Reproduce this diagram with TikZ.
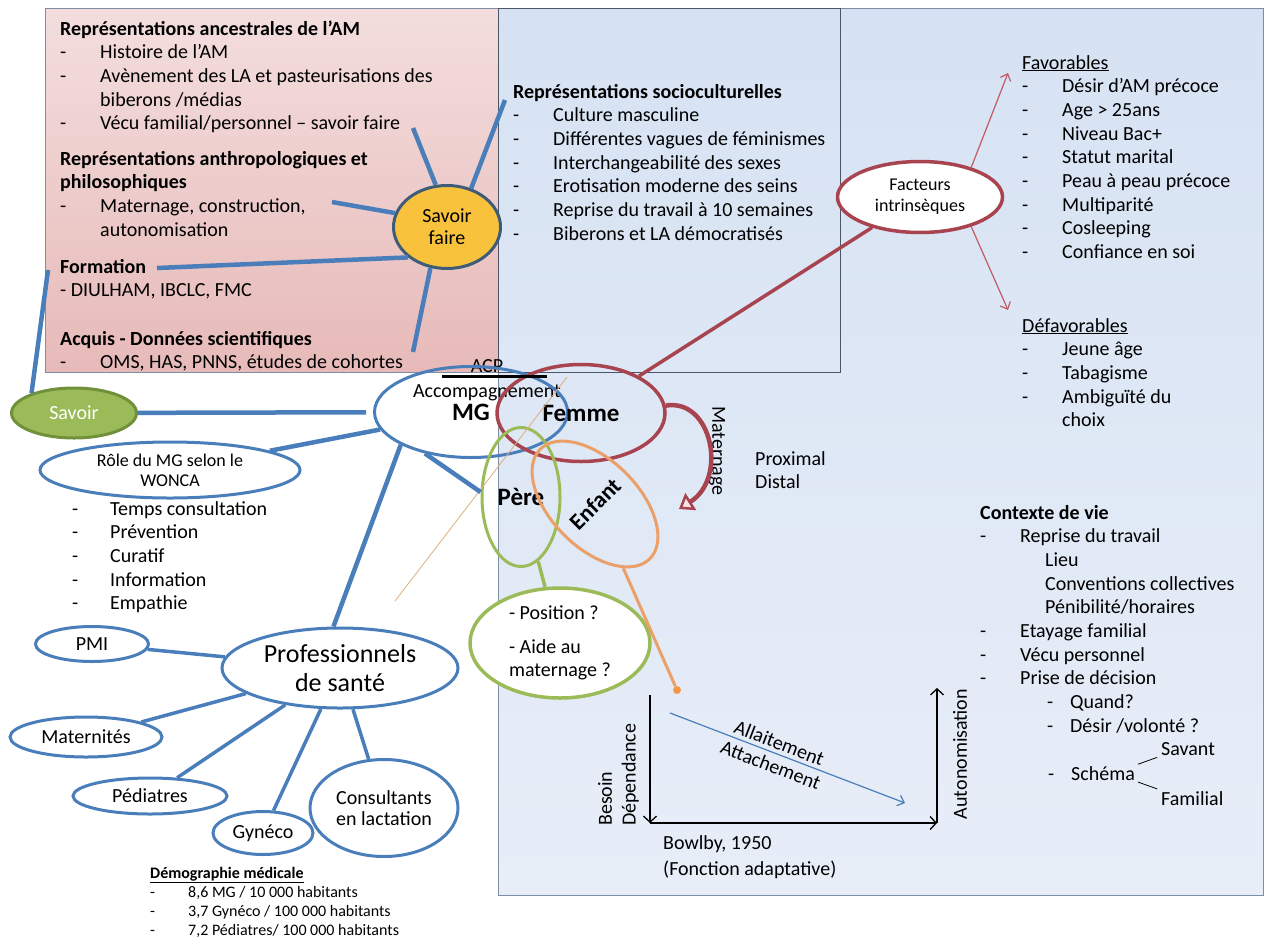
\documentclass[tikz,border=0pt]{standalone}
\usepackage{fontspec}
\setmainfont{Carlito}
\usetikzlibrary{shapes.geometric,arrows.meta}
\definecolor{mgblue}{HTML}{4A7EBB}
\definecolor{femred}{HTML}{A84450}
\definecolor{facarrowc}{HTML}{C25A66}
\definecolor{pergreen}{HTML}{9BBB59}
\definecolor{savborder}{HTML}{71903A}
\definecolor{enforange}{HTML}{EBA06A}
\definecolor{dotorange}{HTML}{F79646}
\definecolor{sfyellow}{HTML}{F9C23C}
\definecolor{sfborder}{HTML}{3E5C78}
\definecolor{tanc}{HTML}{DDAE7E}
\definecolor{matfill}{HTML}{FBE3E3}
\definecolor{pinktop}{HTML}{F3DEDD}
\definecolor{pinkbot}{HTML}{E7BAB9}
\definecolor{bgtop}{HTML}{D6E2F3}
\definecolor{bgmid}{HTML}{B9CFEE}
\definecolor{bgbot}{HTML}{E8EEF8}
\definecolor{boxgray}{HTML}{7D8FA6}
\definecolor{boxdark}{HTML}{4A5666}
\newcommand{\bodysize}{\fontsize{20}{23.7}\selectfont}
\newcommand{\smallsize}{\fontsize{18}{20}\selectfont}
\newcommand{\bigbold}{\fontsize{25}{28}\selectfont\bfseries}
\newcommand{\profsize}{\fontsize{26}{29}\selectfont}
\newcommand{\demosize}{\fontsize{16}{19}\selectfont}
\newcommand{\tiret}[1][40pt]{\makebox[#1][l]{-}}
\begin{document}
\begin{tikzpicture}[x=1pt,y=-1pt,font=\bodysize,
    oval/.style={draw=mgblue,line width=3pt,ellipse,inner sep=0pt,fill=white,align=center},
    bline/.style={draw=mgblue,line width=4.5pt},
    txt/.style={align=left,inner sep=0pt,anchor=base west},
    facarrow/.style={draw=facarrowc,line width=1.2pt,-{Straight Barb[length=6pt,width=11pt]}},
    axis/.style={line width=1.3pt,-{Straight Barb[length=6pt,width=13pt]}},
    matarrow/.style={draw=femred,line width=4.5pt,-{Triangle[fill=matfill,line width=2.5pt,length=14pt,width=20pt]}}]
    \useasboundingbox (0,0) rectangle (1268,940);

    \shadedraw[top color=bgtop,middle color=bgmid,bottom color=bgbot,draw=boxgray,line width=1pt] (498,8) rectangle (1263,895);
    \shadedraw[top color=pinktop,bottom color=pinkbot,draw=boxgray,line width=1pt] (45,8) rectangle (498,372);
    \draw[boxdark,line width=1pt] (498,8) rectangle (840,372);

    % multi-line texts sit on the baseline of their last line
    \node[txt] (ancest) at (60,129.8) {\textbf{Représentations ancestrales de l’AM}\\\tiret Histoire de l’AM\\\tiret Avènement des LA et pasteurisations des\\\hspace*{40pt}biberons /médias\\\tiret Vécu familial/personnel – savoir faire};
    \node[txt] (anthropo) at (60,236.1) {\textbf{Représentations anthropologiques et}\\\textbf{philosophiques}\\\tiret Maternage, construction,\\\hspace*{40pt}autonomisation};
    \node[txt] (formation) at (60,296.7) {\textbf{Formation}\\- DIULHAM, IBCLC, FMC};
    \node[txt] (acquis) at (60,368.7) {\textbf{Acquis - Données scientifiques}\\\tiret OMS, HAS, PNNS, études de cohortes};

    \node[txt] (socio) at (513,240.2) {\textbf{Représentations socioculturelles}\\\tiret Culture masculine\\\tiret Différentes vagues de féminismes\\\tiret Interchangeabilité des sexes\\\tiret Erotisation moderne des seins\\\tiret Reprise du travail à 10  semaines\\\tiret Biberons et LA démocratisés};

    \node[txt] (favor) at (1022,258.6) {\underline{Favorables}\\\tiret Désir d’AM précoce\\\tiret Age > 25ans\\\tiret Niveau Bac+\\\tiret Statut marital\\\tiret Peau à peau précoce\\\tiret Multiparité\\\tiret Cosleeping\\\tiret Confiance en soi};
    \node[txt] (defavor) at (1022,426.8) {\underline{Défavorables}\\\tiret Jeune âge\\\tiret Tabagisme\\\tiret Ambiguïté du\\\hspace*{40pt}choix};

    \node[txt] (contexte) at (980,732.3) {\textbf{Contexte de vie}\\\tiret Reprise du travail\\\hspace*{65pt}Lieu\\\hspace*{65pt}Conventions collectives\\\hspace*{65pt}Pénibilité/horaires\\\tiret Etayage familial\\\tiret Vécu personnel\\\tiret Prise de décision\\\hspace*{67pt}\tiret[23pt]Quand?\\\hspace*{67pt}\tiret[23pt]Désir /volonté ?};
    \node[txt,inner sep=1pt] (schema) at (1047,780) {\tiret[23pt]Schéma};
    \node[txt,inner sep=1pt] (savant) at (1160,755) {Savant};
    \node[txt,inner sep=1pt] (familial) at (1160,805) {Familial};

    \node[oval,draw=sfborder,fill=sfyellow,minimum width=107pt,minimum height=83pt,font=\fontsize{20}{22}\selectfont] (sf) at (447,227) {Savoir\\faire};
    \node[oval,draw=savborder,fill=pergreen,text=white,minimum width=125pt,minimum height=50pt] (savoir) at (74,413) {Savoir};

    \node (acp) at (487,366) {ACP};
    \node (accomp) at (487,393) {Accompagnement};
    \node[oval,fill=none,minimum width=193pt,minimum height=91pt,font=\bigbold] (mg) at (471,412) {MG};
    \node[oval,fill=none,draw=femred,line width=3.5pt,minimum width=168pt,minimum height=97pt,font=\bigbold] (femme) at (581,413) {Femme};
    \node[oval,fill=none,draw=pergreen,minimum width=78pt,minimum height=139pt,font=\bigbold] (pere) at (521,497) {Père};
    \node[oval,fill=none,draw=enforange,rotate=45,minimum width=85pt,minimum height=155pt,font=\fontsize{23}{26}\selectfont\bfseries] (enfant) at (595,504) {Enfant};
    \node[oval,draw=pergreen,line width=3.5pt,minimum width=180pt,minimum height=110pt,align=left] (position) at (560,643) {- Position ?\\[10pt]- Aide au\\maternage ?};
    \node[circle,fill=dotorange,inner sep=0pt,minimum size=8pt] (dot) at (677,690) {};

    \node[oval,draw=femred,line width=3.5pt,minimum width=165pt,minimum height=71pt,font=\fontsize{18}{21}\selectfont] (fact) at (920,197) {Facteurs\\intrinsèques};

    \node[oval,minimum width=260pt,minimum height=56pt,font=\smallsize] (role) at (170,470) {Rôle du MG  selon le\\WONCA};
    \node[txt] (wonca) at (72,609.8) {\tiret[38pt]Temps consultation\\\tiret[38pt]Prévention\\\tiret[38pt]Curatif\\\tiret[38pt]Information\\\tiret[38pt]Empathie};

    \node[oval,minimum width=236pt,minimum height=80pt,font=\profsize] (prof) at (340,668) {Professionnels\\de santé};
    \node[oval,minimum width=113pt,minimum height=35pt] (pmi) at (92,644) {PMI};
    \node[oval,minimum width=152pt,minimum height=40pt] (matern) at (86,737) {Maternités};
    \node[oval,minimum width=154pt,minimum height=36pt] (pediat) at (150,796) {Pédiatres};
    \node[oval,minimum width=100pt,minimum height=43pt] (gyneco) at (263,833) {Gynéco};
    \node[oval,minimum width=148pt,minimum height=97pt,font=\fontsize{20}{21}\selectfont] (consult) at (384,808) {Consultants\\en lactation};
    \node[txt,font=\demosize] (demo) at (150,935) {\textbf{\underline{Démographie médicale}}\\\tiret[38pt]8,6 MG / 10 000 habitants\\\tiret[38pt]3,7 Gynéco / 100 000 habitants\\\tiret[38pt]7,2 Pédiatres/ 100 000 habitants};

    \node[rotate=-90] (matlabel) at (717,451) {Maternage};
    \node[txt] (prox) at (755,488.7) {Proximal\\Distal};

    \node[rotate=90,anchor=north west,align=left,inner sep=0pt] (besoin) at (598,826) {Besoin\\Dépendance};
    \node[rotate=90] (autonom) at (960,754) {Autonomisation};
    \node[rotate=-21,align=center] (allait) at (775,754) {Allaitement\\Attachement};
    \node[txt,font=\fontsize{20}{26}\selectfont] (bowlby) at (663,875) {Bowlby, 1950\\(Fonction adaptative)};

    \coordinate (sfa) at (413,128);
    \coordinate (sfb) at (505,100);
    \coordinate (sfc) at (332,202);
    \coordinate (sfd) at (157,268);
    \coordinate (sfe) at (413,352);
    \coordinate (savtop) at (48,270);
    \coordinate (tanA) at (395,601);
    \coordinate (tanB) at (567,377);
    \coordinate (matend) at (679,509);
    \coordinate (favtip) at (1008,73);
    \coordinate (defavtip) at (1008,310);
    \coordinate (orig) at (650,823);
    \coordinate (ytop) at (650,695);
    \coordinate (xend) at (937,823);
    \coordinate (ztop) at (937,688);
    \coordinate (attA) at (670,713);
    \coordinate (attB) at (905,803);

    \draw[tanc,line width=0.8pt] (tanA) -- (tanB);
    \draw[line width=3pt] ([xshift=-45pt]acp.south) -- ([xshift=60pt]acp.south);

    \draw[bline] (sf.105) -- (sfa);
    \draw[bline] (sf.58) -- (sfb);
    \draw[bline] (sf.165) -- (sfc);
    \draw[bline] (sf.218) -- (sfd);
    \draw[bline] (sf.248) -- (sfe);
    \draw[bline] (savoir.155) -- (savtop);
    \draw[bline,shorten >=7pt] (savoir) -- (mg);
    \draw[bline] (mg) -- (role);
    \draw[bline] (mg.222) -- (pere.173);
    \draw[bline] (mg.205) -- (prof.99);
    \draw[bline,line width=3.5pt] (prof) -- (pmi);
    \draw[bline,line width=3.5pt] (prof) -- (matern);
    \draw[bline,line width=3.5pt] (prof) -- (pediat);
    \draw[bline,line width=3.5pt] (prof) -- (gyneco);
    \draw[bline,line width=3.5pt] (prof) -- (consult);

    \draw[femred,line width=3.5pt] (femme) -- (fact);
    \draw[facarrow] (fact.30) -- (favtip);
    \draw[facarrow] (fact.-30) -- (defavtip);
    \draw[matarrow] (femme.5) .. controls (712,398) and (728,478) .. (matend);

    \draw[pergreen,line width=3.5pt] (pere) -- (position);
    \draw[enforange,line width=3pt] (enfant) -- (dot);

    \draw[line width=0.8pt,shorten <=2pt,shorten >=3pt] (schema.north east) -- (savant.south west);
    \draw[line width=0.8pt,shorten <=2pt,shorten >=3pt] (schema.south east) -- (familial.north west);

    \draw[axis] (ytop) -- (orig);
    \draw[axis] (orig) -- (xend);
    \draw[axis] (xend) -- (ztop);
    \draw[mgblue,line width=1.2pt,-{Straight Barb[length=6pt,width=11pt]}] (attA) -- (attB);
  \end{tikzpicture}
\end{document}
